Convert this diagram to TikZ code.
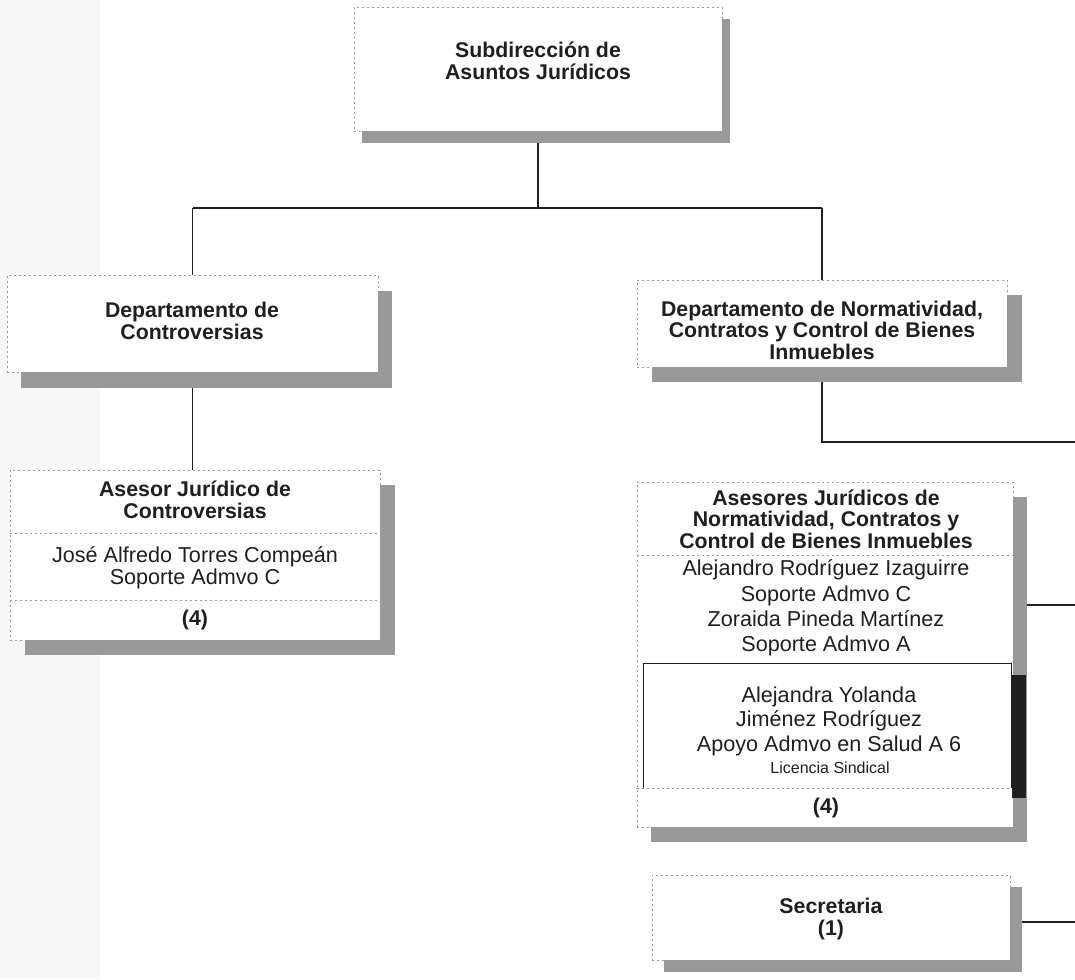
\documentclass[tikz,border=0pt]{standalone}
\usepackage{fontspec}
\setmainfont{Liberation Sans}
\usetikzlibrary{calc}
\pgfdeclarelayer{bg}
\pgfsetlayers{bg,main}
\definecolor{shd}{gray}{0.6}
\definecolor{edge}{gray}{0.6}
\definecolor{ink}{gray}{0.12}
\newcommand\myshadow[3]{\fill[shd] ($(#1.south west)+(#2,#3)$) rectangle ($(#1.north east)+(#2,#3)$);}
\begin{document}
\begin{tikzpicture}[x=1pt,y=-1pt,
  box/.style={rectangle, draw=edge, fill=white, dash pattern=on 2pt off 3pt, line width=0.6pt, inner sep=0pt, outer sep=0pt},
  hd/.style={font=\fontsize{21.3}{21.5}\selectfont\bfseries, text=ink, align=center, inner sep=0pt},
  nm/.style={font=\fontsize{21.6}{24.5}\selectfont, text=ink, align=center, inner sep=0pt},
  sm/.style={font=\fontsize{16}{17}\selectfont, text=ink, align=center, inner sep=0pt},
  conn/.style={line width=1.2pt, draw=ink},
  divider/.style={draw=edge, dash pattern=on 2pt off 3pt, line width=0.6pt}]
\useasboundingbox (0,0) rectangle (1075,979);

% boxes
\node[box, minimum width=368, minimum height=124] (top) at (538,69) {};
\node[box, minimum width=371, minimum height=97] (dc) at (192.5,323.5) {};
\node[box, minimum width=370, minimum height=170] (ajc) at (195,555) {};
\node[box, minimum width=370, minimum height=87] (dn) at (822,323.5) {};
\node[box, minimum width=376, minimum height=345] (ajn) at (825,654.5) {};
\node[rectangle, draw=none, inner sep=0pt, outer sep=0pt, minimum width=368, minimum height=125] (inner) at (827,725.5) {};
\node[box, minimum width=358, minimum height=85] (sec) at (831,917.5) {};

% dividers
\coordinate (y1) at (0,533);
\coordinate (y2) at (0,600);
\coordinate (y3) at (0,555);
\coordinate (y4) at (0,788);
\draw[divider] (ajc.west |- y1) -- (ajc.east |- y1);
\draw[divider] (ajc.west |- y2) -- (ajc.east |- y2);
\draw[divider] (ajn.west |- y3) -- (ajn.east |- y3);
\draw[line width=1pt, draw=ink] (inner.south west) -- (inner.north west) -- (inner.north east) -- (inner.south east);
\draw[divider] (ajn.west |- y4) -- (ajn.east |- y4);
\fill[ink] ($(inner.north east)+(1,12)$) rectangle ($(inner.south east)+(15,10)$);

% texts
\node[hd] (ttop) at (538,61) {Subdirección de\\Asuntos Jurídicos};
\node[hd] (tdc) at (192,321) {Departamento de\\Controversias};
\node[hd] (tajc1) at (195,500) {Asesor Jurídico de\\Controversias};
\node[nm, font=\fontsize{21.6}{22}\selectfont] (tajc2) at (195,568) {José Alfredo Torres Compeán\\Soporte Admvo C};
\node[hd] (tajc3) at (195,620) {(4)};
\node[hd] (tdn) at (822,330) {Departamento de Normatividad,\\Contratos y Control de Bienes\\Inmuebles};
\node[hd] (tajn1) at (826,519) {Asesores Jurídicos de\\Normatividad, Contratos y\\Control de Bienes Inmuebles};
\node[nm, font=\fontsize{21.6}{25.3}\selectfont] (tajn2) at (826,608) {Alejandro Rodríguez Izaguirre\\Soporte Admvo C\\Zoraida Pineda Martínez\\Soporte Admvo A};
\node[nm] (tin1) at (829,721) {Alejandra Yolanda\\Jiménez Rodríguez\\Apoyo Admvo en Salud A 6};
\node[sm] (tin2) at (830,768) {Licencia Sindical};
\node[hd] (tajn3) at (826,808) {(4)};
\node[hd, font=\fontsize{21.3}{22}\selectfont\bfseries] (tsec) at (831,919) {Secretaria\\(1)};

\begin{pgfonlayer}{bg}
  \fill[black!3] (0,0) rectangle (100,979);
  % connectors
  \coordinate (busL) at (192,208);
  \coordinate (e1) at (1075,442);
  \coordinate (e2) at (1075,605);
  \coordinate (e3) at (1075,922);
  \draw[conn] (top.south) -- (top.south |- busL);
  \draw[conn] (dc.north |- busL) -- (dn.north |- busL);
  \draw[conn] (dc.north |- busL) -- (dc.north);
  \draw[conn] (dn.north |- busL) -- (dn.north);
  \draw[conn] (dc.south) -- (dc.south |- ajc.north);
  \draw[conn] (dn.south) |- (e1);
  \draw[conn] (e2) -- (e2 -| ajn.east);
  \draw[conn] (e3) -- (e3 -| sec.east);
  % shadows
  \myshadow{top}{8}{12}
  \myshadow{dc}{14}{16}
  \myshadow{ajc}{15}{15}
  \myshadow{dn}{15}{15}
  \myshadow{ajn}{14}{15}
  \myshadow{sec}{12}{12}
\end{pgfonlayer}
\end{tikzpicture}
\end{document}
